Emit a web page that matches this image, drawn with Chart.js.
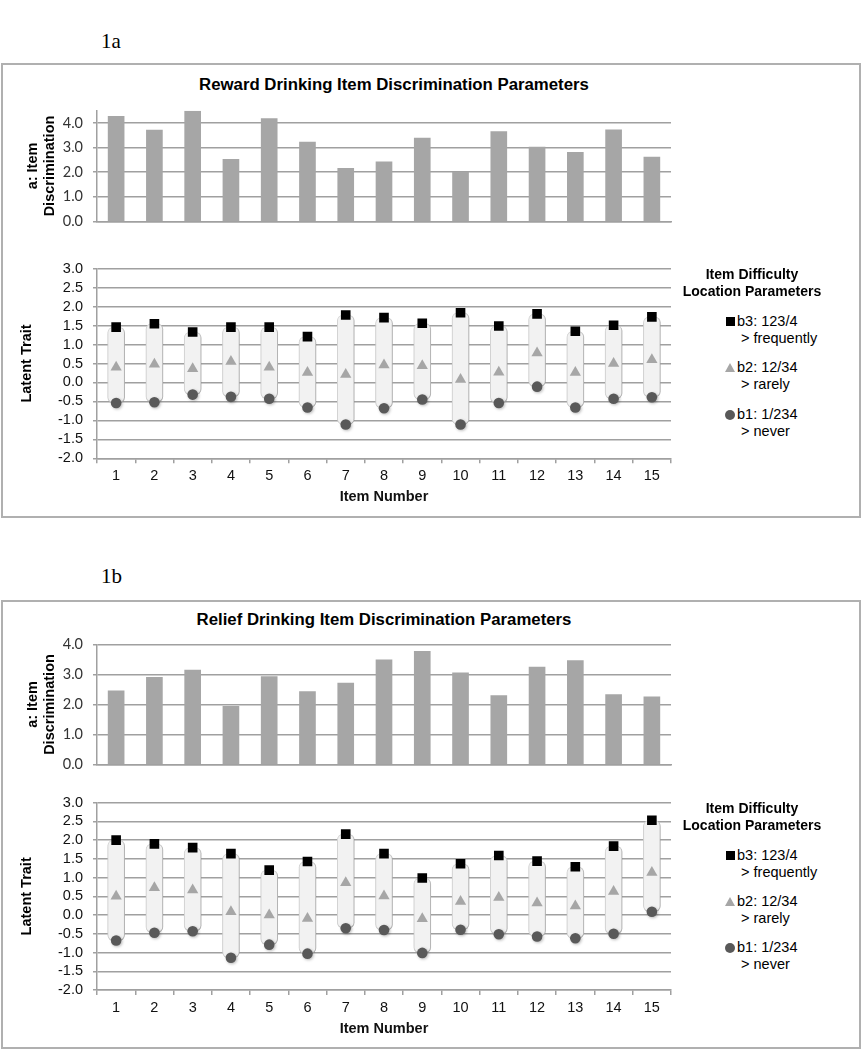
<!DOCTYPE html>
<html>
<head>
<meta charset="utf-8">
<script src="https://cdn.jsdelivr.net/npm/chart.js@4.4.1/dist/chart.umd.min.js"></script>
<style>
  body { margin: 0; background: #fff; }
  #page { position: relative; width: 862px; height: 1050px; background: #fff; overflow: hidden; }
  .fig { position: absolute; font: 21px "Liberation Serif", "Times New Roman", serif; line-height: 21px; color: #000; }
  .frame { position: absolute; left: 1px; width: 860px; box-sizing: border-box; border: 2px solid #b0b0b0; }
  .title { position: absolute; width: 600px; text-align: center; font: bold 16.8px "Liberation Sans", Arial, sans-serif; line-height: 20px; color: #000; }
  .lhead { position: absolute; left: 652px; width: 200px; text-align: center; font: bold 14px "Liberation Sans", Arial, sans-serif; line-height: 17px; color: #000; }
  .ltext { position: absolute; left: 737px; font: 14.5px "Liberation Sans", Arial, sans-serif; line-height: 17px; color: #000; white-space: pre; }
  .sq { position: absolute; width: 9px; height: 9px; background: #000; }
  .tri { position: absolute; width: 0; height: 0; border-left: 5.5px solid transparent; border-right: 5.5px solid transparent; border-bottom: 9.5px solid #a6a6a6; }
  .dot { position: absolute; width: 10px; height: 10px; border-radius: 50%; background: #595959; }
  canvas { position: absolute; left: 0; }
</style>
</head>
<body>
<div id="page">
  <div class="fig" style="left:101px;top:31px">1a</div>
  <div class="frame" style="top:63px;height:455px"></div>
  <div class="title" style="left:94px;top:75px">Reward Drinking Item Discrimination Parameters</div>
  <canvas id="rewardDisc" width="680" height="148" style="top:92px"></canvas>
  <canvas id="rewardTrait" width="680" height="262" style="top:250px"></canvas>
  <div class="lhead" style="top:266px">Item Difficulty<br>Location Parameters</div>
  <div class="sq" style="left:726px;top:317px"></div>
  <div class="ltext" style="top:313px">b3: 123/4
 &gt; frequently</div>
  <div class="tri" style="left:725px;top:363px"></div>
  <div class="ltext" style="top:359px">b2: 12/34
 &gt; rarely</div>
  <div class="dot" style="left:725px;top:410px"></div>
  <div class="ltext" style="top:406px">b1: 1/234
 &gt; never</div>

  <div class="fig" style="left:101px;top:566px">1b</div>
  <div class="frame" style="top:600px;height:449px"></div>
  <div class="title" style="left:84px;top:610px">Relief Drinking Item Discrimination Parameters</div>
  <canvas id="reliefDisc" width="680" height="157" style="top:626px"></canvas>
  <canvas id="reliefTrait" width="680" height="260" style="top:784px"></canvas>
  <div class="lhead" style="top:800px">Item Difficulty<br>Location Parameters</div>
  <div class="sq" style="left:726px;top:851px"></div>
  <div class="ltext" style="top:847px">b3: 123/4
 &gt; frequently</div>
  <div class="tri" style="left:725px;top:897px"></div>
  <div class="ltext" style="top:893px">b2: 12/34
 &gt; rarely</div>
  <div class="dot" style="left:725px;top:943px"></div>
  <div class="ltext" style="top:939px">b1: 1/234
 &gt; never</div>
</div>

<script>
const items = ["1", "2", "3", "4", "5", "6", "7", "8", "9", "10", "11", "12", "13", "14", "15"]

// 1a: reward drinking
const rewardA = [4.27, 3.71, 4.48, 2.52, 4.18, 3.22, 2.16, 2.42, 3.39, 1.99, 3.65, 3.02, 2.81, 3.72, 2.61]
const rewardB3 = [1.46, 1.55, 1.33, 1.46, 1.46, 1.21, 1.78, 1.71, 1.56, 1.84, 1.49, 1.81, 1.35, 1.51, 1.73]
const rewardB2 = [0.40, 0.48, 0.36, 0.55, 0.40, 0.26, 0.21, 0.46, 0.44, 0.08, 0.27, 0.78, 0.26, 0.50, 0.60]
const rewardB1 = [-0.54, -0.52, -0.32, -0.38, -0.43, -0.66, -1.11, -0.68, -0.45, -1.11, -0.54, -0.11, -0.66, -0.43, -0.39]

// 1b: relief drinking
const reliefA = [2.46, 2.91, 3.15, 1.94, 2.93, 2.43, 2.72, 3.49, 3.78, 3.06, 2.30, 3.25, 3.47, 2.33, 2.26]
const reliefB3 = [2.00, 1.90, 1.80, 1.64, 1.20, 1.43, 2.16, 1.64, 0.99, 1.37, 1.59, 1.44, 1.29, 1.84, 2.53]
const reliefB2 = [0.50, 0.73, 0.67, 0.09, 0.00, -0.09, 0.86, 0.51, -0.10, 0.36, 0.47, 0.32, 0.24, 0.63, 1.14]
const reliefB1 = [-0.68, -0.47, -0.43, -1.14, -0.79, -1.03, -0.35, -0.40, -1.01, -0.39, -0.51, -0.57, -0.62, -0.50, 0.09]

const gridColor = "#a0a0a0"
const arial = "'Liberation Sans', Arial, sans-serif"

// soft drop shadow for the range bars and the b1 dots
const shadowPlugin = {
  id: "softShadow",
  beforeDatasetDraw(chart, args) {
    if (!chart.data.datasets[args.index].shadow) return
    const ctx = chart.ctx
    ctx.save()
    ctx.shadowColor = "rgba(0, 0, 0, 0.28)"
    ctx.shadowBlur = 3
    ctx.shadowOffsetX = 1
    ctx.shadowOffsetY = 1
  },
  afterDatasetDraw(chart, args) {
    if (chart.data.datasets[args.index].shadow) chart.ctx.restore()
  }
}

function discChart(id, values, yMax, padBottom) {
  return new Chart(document.getElementById(id), {
    type: "bar",
    data: {
      labels: items,
      datasets: [{
        data: values,
        backgroundColor: "#a6a6a6",
        borderWidth: 0,
        barThickness: 16
      }]
    },
    options: {
      responsive: false,
      animation: false,
      layout: { padding: { top: 10, right: 9, bottom: padBottom, left: 0 } },
      plugins: { legend: { display: false }, tooltip: { enabled: false } },
      scales: {
        x: {
          ticks: { display: false },
          grid: { display: false },
          border: { display: true, color: gridColor, width: 1.5 },
          afterFit: s => { s.height = 0 }
        },
        y: {
          min: 0,
          max: yMax,
          ticks: {
            stepSize: 1,
            includeBounds: false,
            autoSkip: false,
            padding: 10,
            color: "#333",
            font: { family: "Lato, 'Open Sans', sans-serif", size: 14.5 },
            callback: v => v.toFixed(1)
          },
          grid: { color: gridColor, lineWidth: 1.5, tickLength: 4 },
          border: { display: true, color: gridColor, width: 1.5 },
          title: {
            display: true,
            text: ["a: Item", "Discrimination"],
            color: "#000",
            font: { family: arial, size: 14.5, weight: "bold" },
            padding: { top: 24, bottom: 0 }
          },
          afterFit: s => { s.width = 97 }
        }
      }
    }
  })
}

function traitChart(id, b1, b2, b3, axisHeight) {
  return new Chart(document.getElementById(id), {
    type: "bar",
    data: {
      labels: items,
      datasets: [
        {
          type: "line",
          label: "b3",
          data: b3,
          showLine: false,
          pointStyle: "rect",
          pointRadius: 6.8,
          pointBackgroundColor: "#000",
          pointBorderWidth: 0,
          order: 1
        },
        {
          type: "line",
          label: "b2",
          data: b2,
          showLine: false,
          pointStyle: "triangle",
          pointRadius: 6.5,
          pointBackgroundColor: "#a6a6a6",
          pointBorderWidth: 0,
          order: 2
        },
        {
          type: "line",
          label: "b1",
          data: b1,
          showLine: false,
          pointStyle: "circle",
          pointRadius: 5.3,
          pointBackgroundColor: "#595959",
          pointBorderWidth: 0,
          shadow: true,
          order: 3
        },
        {
          label: "range",
          data: b1.map((lo, i) => [lo, b3[i]]),
          backgroundColor: "#f2f2f2",
          borderColor: "#dadada",
          borderWidth: 1,
          borderSkipped: false,
          borderRadius: 6,
          barThickness: 17,
          shadow: true,
          order: 10
        }
      ]
    },
    options: {
      responsive: false,
      animation: false,
      layout: { padding: { top: 11.7, right: 9, bottom: 0, left: 0 } },
      plugins: { legend: { display: false }, tooltip: { enabled: false } },
      scales: {
        x: {
          offset: true,
          grid: { display: true, offset: true, drawOnChartArea: false, tickLength: 5, color: gridColor, lineWidth: 1.5 },
          border: { display: true, color: gridColor, width: 1.5 },
          ticks: { padding: 4, color: "#111", font: { family: arial, size: 14.5 } },
          title: {
            display: true,
            text: "Item Number",
            color: "#111",
            font: { family: arial, size: 14.5, weight: "bold" },
            padding: { top: 0, bottom: 6 }
          },
          afterFit: s => { s.height = axisHeight }
        },
        y: {
          min: -2,
          max: 3,
          ticks: {
            stepSize: 0.5,
            autoSkip: false,
            padding: 10,
            color: "#111",
            font: { family: arial, size: 14.5 },
            callback: v => v.toFixed(1)
          },
          grid: { color: gridColor, lineWidth: 1.5, tickLength: 4 },
          border: { display: true, color: gridColor, width: 1.5 },
          title: {
            display: true,
            text: "Latent Trait",
            color: "#000",
            font: { family: arial, size: 14.5, weight: "bold" },
            padding: { top: 18.6, bottom: 0 }
          },
          afterFit: s => { s.width = 97 }
        }
      }
    },
    plugins: [shadowPlugin]
  })
}

discChart("rewardDisc", rewardA, 4.5, 10)
traitChart("rewardTrait", rewardB1, rewardB2, rewardB3, 53.7)
discChart("reliefDisc", reliefA, 4.0, 9.7)
traitChart("reliefTrait", reliefB1, reliefB2, reliefB3, 54)
</script>
</body>
</html>
